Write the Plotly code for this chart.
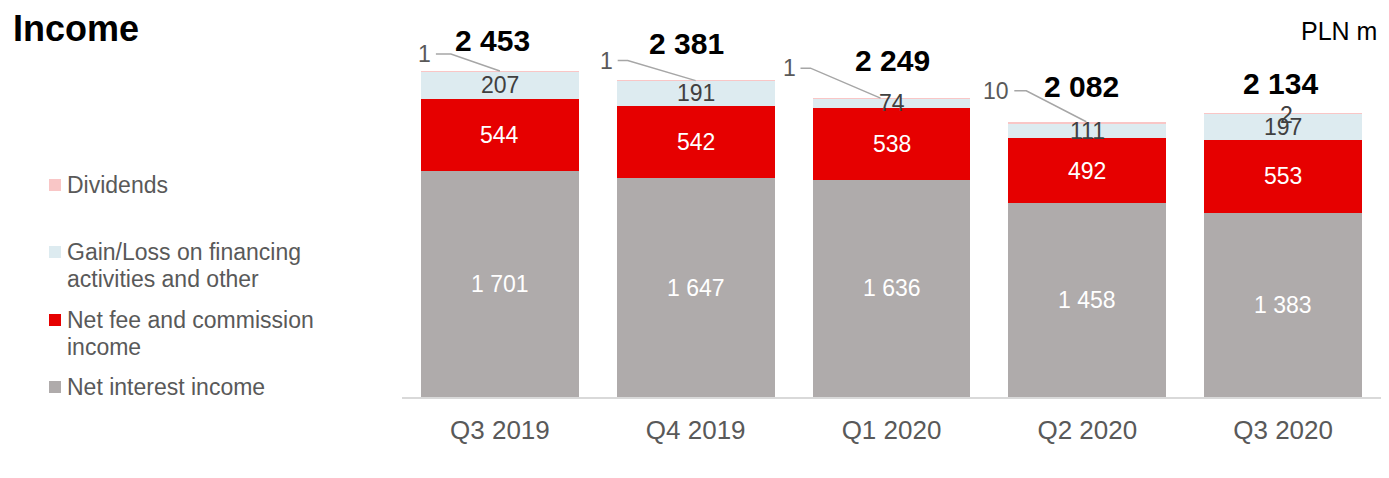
import plotly.graph_objects as go

# ---------------- data ----------------
categories = ["Q3 2019", "Q4 2019", "Q1 2020", "Q2 2020", "Q3 2020"]
net_interest = [1701, 1647, 1636, 1458, 1383]
net_fee = [544, 542, 538, 492, 553]
gain_loss = [207, 191, 74, 111, 197]
dividends = [1, 1, 1, 10, 2]
totals = [2453, 2381, 2249, 2082, 2134]

series_names = ["Net interest income", "Net fee and commission income",
                "Gain/Loss on financing activities and other", "Dividends"]

# ---------------- styling / layout ----------------
OFF = 8                                   # default page body margin
W, H = 1389 - OFF, 478 - 2 * OFF          # figure size
# plot area, measured in page pixels
PL, PR, PT, PB = 402, 1381, 20, 397
Y_MAX = 2837
FONT = "Liberation Sans, Arial, sans-serif"
C_GRAY, C_RED, C_BLUE, C_PINK = "#AFABAB", "#E60000", "#DDEBF0", "#F9C6C6"
C_TXT = "#595959"

CAT_PX = (PR - PL) / len(categories)
UNIT_PX = (PB - PT) / Y_MAX


def fmt(v):
    return f"{v:,}".replace(",", " ")


def px_paper(px, py):
    return (px - PL) / (PR - PL), (PB - py) / (PB - PT)


xs = list(range(len(categories)))
tops = [a + b + c + d for a, b, c, d in zip(net_interest, net_fee, gain_loss, dividends)]

fig = go.Figure()
for vals, col, nm in [(net_interest, C_GRAY, series_names[0]), (net_fee, C_RED, series_names[1]),
                      (gain_loss, C_BLUE, series_names[2]), (dividends, C_PINK, series_names[3])]:
    fig.add_trace(go.Bar(x=xs, y=vals, name=nm, marker=dict(color=col, line=dict(width=0)),
                         showlegend=False, hoverinfo="y"))

annotations = []
# segment labels
for i in xs:
    base = 0
    for vals, col in [(net_interest, "white"), (net_fee, "white"), (gain_loss, "#404040")]:
        annotations.append(dict(x=i, y=base + vals[i] / 2, text=fmt(vals[i]), showarrow=False,
                                font=dict(family=FONT, size=23, color=col),
                                xanchor="center", yanchor="middle"))
        base += vals[i]

# total labels (offsets in px: dx, dy above bar top)
total_offsets = [(-7, 31), (-9, 37), (1, 38), (-6, 35), (-3, 30)]
for i in xs:
    dx, dy = total_offsets[i]
    annotations.append(dict(x=i, y=tops[i], text=f"<b>{fmt(totals[i])}</b>", showarrow=False,
                            xshift=dx, yshift=dy, xanchor="center", yanchor="middle",
                            font=dict(family=FONT, size=30, color="black")))

# dividend leader labels (px offsets: start, elbow, end x; dy)
leader = [(-64, -49, 0, 17), (-78, -68, 0, 20), (-91, -81, -11, 30), (-73, -61, -1, 31), None]
for i in xs:
    if leader[i] is None:
        annotations.append(dict(x=i, y=tops[i], text=fmt(dividends[i]), showarrow=False,
                                xshift=3, yshift=-2, xanchor="center", yanchor="middle",
                                font=dict(family=FONT, size=23, color="#404040")))
        continue
    s, e, end, dy = leader[i]
    fig.add_trace(go.Scatter(
        x=[i + s / CAT_PX, i + e / CAT_PX, i + end / CAT_PX],
        y=[tops[i] + dy / UNIT_PX, tops[i] + dy / UNIT_PX, tops[i]],
        mode="lines", line=dict(color="#A6A6A6", width=1.5),
        showlegend=False, hoverinfo="skip"))
    annotations.append(dict(x=i, y=tops[i], text=fmt(dividends[i]), showarrow=False,
                            xshift=s - 3, yshift=dy, xanchor="right", yanchor="middle",
                            font=dict(family=FONT, size=23, color=C_TXT)))

# title and unit
x0, y0 = px_paper(11, 28)
annotations.append(dict(xref="paper", yref="paper", x=x0, y=y0, text="<b>Income</b>",
                        showarrow=False, xanchor="left", yanchor="middle",
                        font=dict(family=FONT, size=36, color="black")))
x0, y0 = px_paper(1379, 31)
annotations.append(dict(xref="paper", yref="paper", x=x0, y=y0, text="PLN m",
                        showarrow=False, xanchor="right", yanchor="middle",
                        font=dict(family=FONT, size=25, color="black")))

# manual legend
legend_items = [
    (C_PINK, ["Dividends"], 185),
    (C_BLUE, ["Gain/Loss on financing", "activities and other"], 252),
    (C_RED, ["Net fee and commission", "income"], 320),
    (C_GRAY, ["Net interest income"], 387),
]
shapes = []
for col, lines, yc in legend_items:
    xa, ya = px_paper(49, yc + 6)
    xb, yb = px_paper(61, yc - 6)
    shapes.append(dict(type="rect", xref="paper", yref="paper", x0=xa, x1=xb, y0=ya, y1=yb,
                       fillcolor=col, line=dict(width=0)))
    for k, ln in enumerate(lines):
        tx, ty = px_paper(65, yc + 27 * k)
        annotations.append(dict(xref="paper", yref="paper", x=tx, y=ty, text=ln,
                                showarrow=False, xanchor="left", yanchor="middle",
                                font=dict(family=FONT, size=23, color=C_TXT)))

fig.update_layout(
    width=W, height=H,
    margin=dict(l=PL - OFF, r=W - (PR - OFF), t=PT - OFF, b=H - (PB - OFF), pad=0),
    barmode="stack", bargap=0.194,
    paper_bgcolor="white", plot_bgcolor="white",
    annotations=annotations, shapes=shapes,
    xaxis=dict(range=[-0.5, len(categories) - 0.5], tickvals=xs, ticktext=categories,
               showline=True, linecolor="#D9D9D9", linewidth=2, ticks="",
               showgrid=False, zeroline=False, ticklabelstandoff=9,
               tickfont=dict(family=FONT, size=26, color=C_TXT)),
    yaxis=dict(range=[0, Y_MAX], visible=False, showgrid=False, zeroline=False),
    showlegend=False,
)

fig.write_html("out.html")
